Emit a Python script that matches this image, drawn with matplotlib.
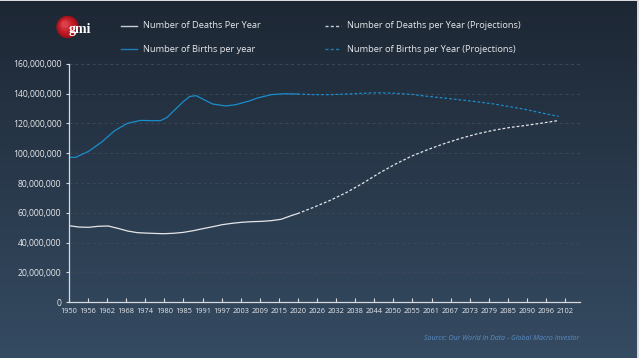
import numpy as np
import matplotlib
matplotlib.use("Agg")
import matplotlib.pyplot as plt
import matplotlib.colors as mcolors
from matplotlib.lines import Line2D
from matplotlib.patches import Circle, Rectangle
from matplotlib.ticker import FuncFormatter

# ---------------- data (values in millions) ----------------
births_hist_years = [1950, 1952, 1956, 1960, 1964, 1968, 1972, 1975, 1978, 1980, 1982, 1985,
                     1987, 1989, 1991, 1994, 1998, 2001, 2005, 2008, 2012, 2016, 2020]
births_hist = [97.3, 97.2, 101.3, 107.5, 115.2, 120.2, 122.1, 121.9, 121.9, 124.0, 128.3, 134.7,
               138.2, 138.7, 136.4, 133.1, 131.8, 132.6, 135.0, 137.3, 139.4, 140.0, 139.8]

births_proj_years = [2020, 2025, 2030, 2035, 2040, 2045, 2050, 2055, 2060, 2065, 2070, 2075,
                     2080, 2085, 2090, 2095, 2100]
births_proj = [139.8, 139.4, 139.4, 139.8, 140.3, 140.7, 140.3, 139.6, 138.2, 137.1, 135.9, 134.6,
               133.2, 131.3, 129.4, 127.0, 124.8]

deaths_hist_years = [1950, 1953, 1956, 1959, 1962, 1965, 1968, 1971, 1975, 1979, 1982, 1985,
                     1988, 1991, 1994, 1997, 2000, 2003, 2006, 2009, 2012, 2015, 2018, 2020]
deaths_hist = [51.3, 50.4, 50.2, 50.9, 51.1, 49.5, 47.7, 46.6, 46.2, 45.9, 46.2, 46.8,
               47.9, 49.3, 50.6, 52.0, 52.9, 53.6, 54.0, 54.2, 54.7, 55.6, 58.0, 59.4]

deaths_proj_years = [2020, 2025, 2030, 2035, 2040, 2045, 2050, 2055, 2060, 2065, 2070, 2075,
                     2080, 2085, 2090, 2095, 2100]
deaths_proj = [59.4, 63.7, 68.3, 73.6, 79.8, 86.6, 92.7, 98.1, 102.5, 106.5, 110.0, 113.0,
               115.4, 117.3, 118.7, 120.3, 122.0]

x_tick_labels = ["1950", "1956", "1962", "1968", "1974", "1980", "1985", "1991", "1997", "2003",
                 "2009", "2015", "2020", "2026", "2032", "2038", "2044", "2050", "2055", "2061",
                 "2067", "2073", "2079", "2085", "2090", "2096", "2102"]
y_ticks = [0, 20, 40, 60, 80, 100, 120, 140, 160]

legend_labels = ["Number of Deaths Per Year", "Number of Births per year",
                 "Number of Deaths per Year (Projections)", "Number of Births per Year (Projections)"]
source_text = "Source: Our World in Data - Global Macro Investor"

# ---------------- styles ----------------
W, H = 639, 358
FONT = ["Open Sans", "DejaVu Sans"]
BLUE = "#1a8dcc"
WHITE = "#e4e6e9"
DASH = (0, (2.2, 1.6))


def fx(px):
    return px / W


def fy(py):
    return 1 - py / H


fig = plt.figure(figsize=(W / 100, H / 100), dpi=100)

# background gradient
bg = fig.add_axes([0, 0, 1, 1], zorder=-10)
top = np.array(mcolors.to_rgb("#1d2734"))
bot = np.array(mcolors.to_rgb("#354b62"))
t = np.linspace(0, 1, 256)[:, None, None]
img = top + (bot - top) * t
bg.imshow(img, aspect="auto", extent=[0, 1, 0, 1], origin="upper")
bg.set_xlim(0, 1)
bg.set_ylim(0, 1)
bg.axis("off")

# main axes
left_px, right_px, top_px, bot_px = 69, 580, 64, 302
ax = fig.add_axes([fx(left_px), fy(bot_px), fx(right_px) - fx(left_px), fy(top_px) - fy(bot_px)])
ax.patch.set_alpha(0)

span = 152.0 / 26.0
x_ticks = 1950 + np.arange(len(x_tick_labels)) * span
ax.set_xlim(1950, 1950 + (right_px - left_px) / 19.08 * span)
ax.set_ylim(0, 160e6)

ax.set_xticks(x_ticks)
ax.set_xticklabels(x_tick_labels, family=FONT, fontsize=5.3, color="#e6e8eb")
ax.set_yticks(np.array(y_ticks) * 1e6)
ax.yaxis.set_major_formatter(FuncFormatter(lambda v, p: f"{v:,.0f}"))
ax.tick_params(axis="y", labelsize=6.2, labelcolor="#e6e8eb", direction="out", length=2.5,
               width=0.8, color="#d8dadd", pad=3)
ax.tick_params(axis="x", labelsize=5.3, labelcolor="#e6e8eb", direction="in", length=3,
               width=0.8, color="#d8dadd", pad=4)
for lab in ax.get_yticklabels() + ax.get_xticklabels():
    lab.set_family(FONT)

for s in ["top", "right"]:
    ax.spines[s].set_visible(False)
for s in ["left", "bottom"]:
    ax.spines[s].set_color("#d8dadd")
    ax.spines[s].set_linewidth(0.9)

ax.yaxis.grid(True, linestyle=(0, (3, 3)), color="#3a4959", linewidth=0.7)
ax.set_axisbelow(True)

ax.plot(births_hist_years, np.array(births_hist) * 1e6, color=BLUE, lw=0.9, solid_capstyle="round")
ax.plot(births_proj_years, np.array(births_proj) * 1e6, color=BLUE, lw=0.9, ls=DASH)
ax.plot(deaths_hist_years, np.array(deaths_hist) * 1e6, color=WHITE, lw=0.9, solid_capstyle="round")
ax.plot(deaths_proj_years, np.array(deaths_proj) * 1e6, color=WHITE, lw=0.9, ls=DASH)

# legend (manual, two columns)
styles = [dict(color="#c9ccd0", ls="-"), dict(color="#1a7fb8", ls="-"),
          dict(color="#c9ccd0", ls=DASH), dict(color="#1a7fb8", ls=DASH)]
rows = [26, 49, 26, 49]
hx = [(121, 137), (121, 137), (325, 341), (325, 341)]
tx = [143, 143, 347, 347]
for lab, st, r, (a, b), x in zip(legend_labels, styles, rows, hx, tx):
    fig.add_artist(Line2D([fx(a), fx(b)], [fy(r), fy(r)], transform=fig.transFigure,
                          lw=1.0, **st))
    fig.text(fx(x), fy(r), lab, family=FONT, fontsize=6.7, color="#e6e8eb",
             ha="left", va="center")

# logo
lax = fig.add_axes([fx(50), fy(42), fx(100) - fx(50), fy(12) - fy(42)])
lax.set_xlim(50, 100)
lax.set_ylim(42, 12)
lax.axis("off")
lax.patch.set_alpha(0)
lax.add_patch(Circle((67.5, 27), 10.5, color="#9e121b"))
for r, c in [(9.0, "#b2161f"), (7.2, "#c21e29"), (5.2, "#cf2b35"), (3.0, "#db3f48")]:
    k = (10.5 - r) * 0.35
    lax.add_patch(Circle((67.5 - k, 27 - k), r, color=c))
lax.text(80, 29.5, "gmi", family=["Liberation Serif", "DejaVu Serif"], fontsize=10,
         fontweight="bold", color="white", ha="center", va="center")

# source
fig.text(fx(579), fy(338), source_text, family=FONT, fontsize=5, style="italic",
         color="#5a8cc4", ha="right", va="center")

# light frame edges
fig.add_artist(Rectangle((fx(637), 0), fx(2), 1, transform=fig.transFigure, color="#d9dbde", lw=0))
fig.add_artist(Rectangle((0, fy(1)), 1, 1 / H, transform=fig.transFigure, color="#d9dbde", lw=0))

fig.savefig("out.png", dpi=100)
